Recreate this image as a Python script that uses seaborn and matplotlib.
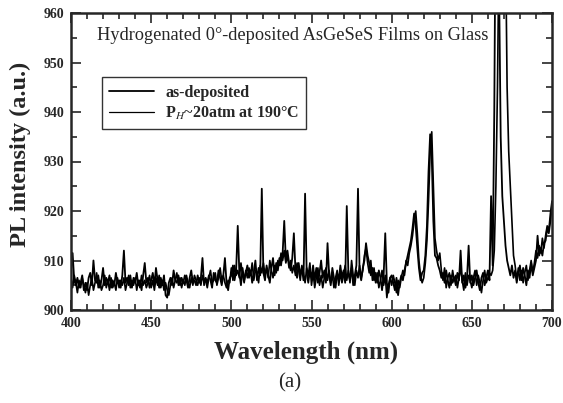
import numpy as np
import pandas as pd
import matplotlib
matplotlib.use("Agg")
import matplotlib.pyplot as plt
from matplotlib.lines import Line2D
from matplotlib.ticker import MultipleLocator
import seaborn as sns

# wavelength grid (nm), 1 nm steps
wavelength = np.arange(400, 701, 1)

as_deposited = [
    908.0, 911.5, 906.0, 905.0, 906.5, 904.5, 905.5, 907.0, 904.0, 905.5,
    904.0, 906.5, 907.5, 905.0, 910.0, 906.0, 905.5, 907.0, 904.5, 906.0,
    908.5, 905.0, 906.5, 905.5, 907.0, 904.5, 906.0, 905.0, 907.5, 905.5,
    906.0, 904.5, 907.0, 912.0, 905.5, 906.5, 905.0, 907.0, 904.5, 906.5,
    905.5, 907.5, 905.0, 906.0, 904.0, 907.0, 909.5, 905.5, 906.5, 904.5,
    906.0, 907.5, 905.0, 908.5, 906.0, 904.5, 906.5, 905.0, 907.0, 903.0,
    902.5, 905.5, 906.5, 905.0, 908.0, 906.0, 905.5, 907.0, 905.0, 906.5,
    905.5, 907.0, 906.0, 904.5, 906.5, 908.0, 905.5, 906.0, 905.0, 907.0,
    905.5, 906.5, 910.5, 905.0, 906.5, 905.5, 907.0, 906.0, 904.5, 907.5,
    906.0, 905.5, 908.0, 906.5, 905.0, 907.0, 910.5, 905.5, 904.0, 906.5,
    907.0, 909.0, 906.0, 908.0, 917.0, 907.5, 905.0, 908.5, 906.0, 907.5,
    909.0, 906.5, 908.0, 905.5, 907.5, 910.0, 906.0, 908.5, 907.0, 924.5,
    907.5, 906.0, 909.0, 907.0, 905.5, 908.5, 910.5, 907.0, 909.5, 908.0,
    910.5, 909.0, 911.5, 918.0, 910.0, 912.0, 909.5, 908.0, 910.5, 915.5,
    908.0, 906.5, 909.5, 907.0, 908.5, 906.0, 923.5, 907.5, 905.5, 908.0,
    906.5, 909.0, 906.0, 908.5, 905.5, 907.5, 910.0, 906.5, 908.0, 905.5,
    913.5, 907.0, 905.0, 908.5, 906.5, 904.5, 907.5, 906.0, 909.0, 906.5,
    908.0, 905.5, 921.0, 907.5, 906.0, 908.5, 905.0, 907.0, 909.0, 924.5,
    907.5, 906.0, 908.5, 910.0, 913.5, 911.0, 909.5, 907.0, 908.5, 906.0,
    907.5, 905.5, 908.0, 906.5, 904.0, 907.0, 915.5, 905.5, 903.5, 906.5,
    907.0, 905.5, 904.0, 906.5, 903.0, 905.5, 907.0, 906.0, 908.0, 909.5,
    911.0, 912.5, 914.0, 916.5, 919.5, 917.0, 912.5, 908.5, 906.0, 907.5,
    908.0, 911.0, 917.0, 928.0, 935.5, 931.0, 918.0, 911.0, 910.5, 909.0,
    908.0, 906.5, 907.5, 905.5, 908.0, 906.0, 904.5, 907.0, 905.5, 906.5,
    905.0, 907.5, 906.0, 912.0, 905.5, 907.0, 904.5, 906.5, 913.0, 905.5,
    907.0, 905.0, 906.5, 908.0, 905.5, 904.0, 906.5, 907.5, 905.0, 906.5,
    908.0, 906.0, 923.0, 909.0, 940.0, 990.0, 990.0, 965.0, 935.0, 923.0,
    918.0, 913.0, 910.0, 908.5, 907.0, 909.0, 906.5, 908.0, 905.5, 907.5,
    909.0, 906.0, 908.5, 907.0, 905.0, 908.0, 906.5, 909.5, 907.0, 908.5,
    910.0, 915.0, 911.0, 912.5, 911.0, 913.5, 914.0, 916.5, 915.5, 918.0,
    921.0,
]

# hydrogenated film, P_H ~ 20 atm at 190 C
hydrogenated = [
    906.5, 904.5, 907.0, 905.5, 903.5, 906.0, 904.5, 906.5, 905.0, 903.5,
    905.5, 903.0, 905.0, 906.5, 904.0, 905.5, 907.5, 904.5, 906.0, 904.0,
    905.0, 907.0, 904.5, 906.0, 904.0, 906.5, 904.5, 905.5, 904.0, 906.5,
    904.5, 906.0, 905.0, 906.5, 904.0, 905.5, 907.0, 904.5, 906.0, 905.0,
    906.5, 904.0, 906.0, 904.5, 907.0, 905.0, 906.0, 904.5, 905.5, 907.0,
    904.5, 906.0, 904.0, 906.5, 905.0, 907.0, 904.5, 906.0, 904.0, 905.5,
    904.0, 903.0, 905.0, 906.5, 904.5, 906.0, 907.5, 905.0, 906.5, 904.5,
    906.0, 905.0, 907.0, 905.5, 904.5, 906.5, 905.0, 907.0, 906.0, 905.0,
    906.5, 905.0, 907.0, 905.5, 906.0, 904.5, 906.5, 908.0, 905.5, 906.0,
    907.5, 905.0, 906.5, 908.5, 906.0, 907.0, 905.5, 904.5, 906.0, 905.5,
    908.5, 906.0, 909.0, 907.0, 908.0, 906.5, 909.5, 907.0, 905.5, 908.0,
    906.5, 908.5, 907.0, 909.5, 906.0, 908.0, 907.5, 905.5, 909.0, 907.5,
    909.5, 907.0, 908.5, 906.5, 910.0, 908.0, 906.5, 909.0, 907.5, 910.0,
    909.0, 911.5, 910.0, 912.0, 909.5, 911.0, 908.5, 910.0, 907.5, 909.0,
    907.0, 909.5, 908.0, 906.0, 909.0, 907.5, 905.5, 908.5, 907.0, 909.5,
    905.0, 907.5, 904.5, 906.5, 908.5, 905.0, 907.0, 904.5, 906.5, 908.5,
    906.0, 908.0, 905.5, 907.0, 904.5, 906.5, 908.0, 905.0, 907.5, 905.5,
    907.0, 909.0, 906.0, 908.0, 905.5, 910.0, 907.0, 905.0, 908.0, 906.5,
    909.0, 906.5, 908.0, 911.0, 912.5, 909.5, 907.5, 910.0, 906.0, 908.5,
    905.5, 907.5, 904.5, 906.0, 908.0, 905.0, 907.0, 902.5, 905.0, 906.5,
    905.0, 907.0, 905.5, 903.5, 906.0, 904.5, 906.5, 908.0, 907.0, 910.0,
    909.0, 911.5, 913.0, 915.0, 918.0, 920.0, 915.5, 910.0, 907.0, 905.5,
    906.5, 909.5, 914.0, 922.0, 932.0, 936.0, 925.0, 914.5, 912.0, 910.0,
    911.5, 908.0, 906.0, 908.5, 904.5, 906.5, 907.5, 905.0, 908.0, 906.0,
    907.0, 904.5, 906.5, 908.5, 906.0, 904.0, 907.5, 905.0, 907.0, 906.0,
    904.5, 906.5, 908.0, 905.0, 907.0, 905.5, 903.5, 906.0, 908.0, 905.5,
    906.5, 907.5, 907.0, 908.0, 912.0, 925.0, 945.0, 975.0, 990.0, 985.0,
    990.0, 975.0, 945.0, 932.0, 925.0, 918.0, 911.0, 909.0, 906.0, 908.5,
    906.0, 908.0, 905.5, 907.5, 909.0, 906.0, 908.0, 910.0, 907.5, 909.5,
    912.0, 910.5, 913.0, 911.5, 914.5, 912.5, 915.0, 917.0, 916.0, 919.5,
    922.0,
]

sns.set_style("ticks")
plt.rcParams['font.family'] = ['Liberation Serif', 'DejaVu Serif']
plt.rcParams['mathtext.fontset'] = 'stix'

df = pd.DataFrame({'wl': wavelength, 'asdep': as_deposited, 'hydro': hydrogenated})

fig = plt.figure(figsize=(5.63, 4.03), dpi=100)
ax = fig.add_axes([71 / 563, 93 / 403, 481 / 563, 297 / 403])

sns.lineplot(data=df, x='wl', y='hydro', color='black', lw=1.2, ax=ax)
sns.lineplot(data=df, x='wl', y='asdep', color='black', lw=1.3, ax=ax)

ax.set_xlim(400, 700)
ax.set_ylim(900, 960)
ax.xaxis.set_major_locator(MultipleLocator(50))
ax.xaxis.set_minor_locator(MultipleLocator(10))
ax.yaxis.set_major_locator(MultipleLocator(10))
ax.yaxis.set_minor_locator(MultipleLocator(5))
ax.tick_params(which='both', direction='in', top=True, right=True, width=1.2)
ax.tick_params(which='major', length=7, pad=5)
ax.tick_params(which='minor', length=4)
for lab in ax.get_xticklabels() + ax.get_yticklabels():
    lab.set_fontweight('bold')
    lab.set_fontsize(10)
for sp in ax.spines.values():
    sp.set_linewidth(1.8)

ax.set_xlabel('')
ax.set_ylabel('PL intensity (a.u.)', fontsize=17.5, fontweight='bold')
ax.yaxis.set_label_coords(-0.083, 0.525)
fig.text(0.543, 0.125, 'Wavelength (nm)', fontsize=18, fontweight='bold',
         ha='center', va='center')
fig.text(0.515, 0.05, '(a)', fontsize=15, ha='center', va='center')

ax.text(0.055, 0.925, 'Hydrogenated 0°-deposited AsGeSeS Films on Glass',
        transform=ax.transAxes, fontsize=13.2, va='center')

handles = [Line2D([], [], color='black', lw=1.3),
           Line2D([], [], color='black', lw=0.9)]
leg = ax.legend(handles, ['as-deposited', r'P$_H$~20atm at 190°C'],
                loc='upper left', bbox_to_anchor=(0.048, 0.81),
                fontsize=11.5, frameon=True, fancybox=False,
                handlelength=2.8, handletextpad=0.7,
                borderpad=0.45, labelspacing=0.25)
leg.get_frame().set_edgecolor('black')
leg.get_frame().set_linewidth(1.0)
for t in leg.get_texts():
    t.set_fontweight('bold')

fig.savefig('out.png', dpi=100)
